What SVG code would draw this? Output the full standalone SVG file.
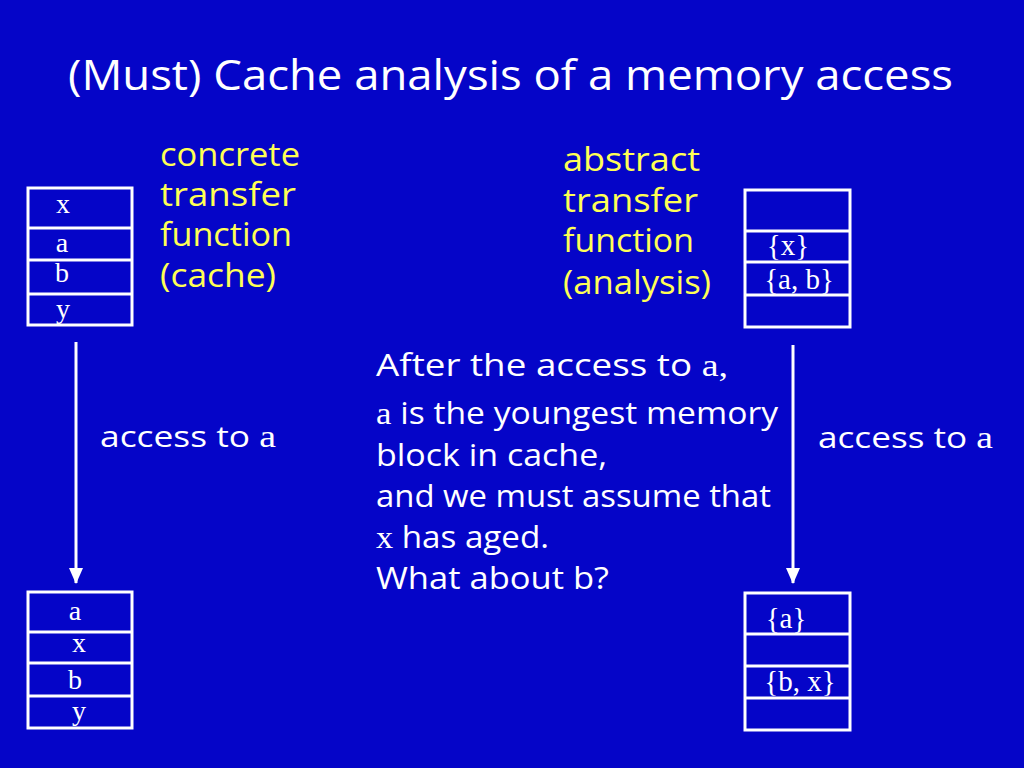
<svg xmlns="http://www.w3.org/2000/svg" width="1024" height="768" viewBox="0 0 1024 768">
<defs>
<style>
.bg{fill:#0505C8}
.cell{fill:none;stroke:#FFFFFF;stroke-width:3}
.sans{font-family:"Open Sans","DejaVu Sans",sans-serif;fill:#FFFFFF}
.yel{font-family:"Open Sans","DejaVu Sans",sans-serif;fill:#FFFF55;font-size:32px}
.ser{font-family:"Liberation Serif","Times New Roman",serif;fill:#FFFFFF}
.conn{stroke:#FFFFFF;stroke-width:3;fill:none}
</style>
<marker id="ah" markerWidth="16" markerHeight="14" refX="15" refY="7" orient="auto" markerUnits="userSpaceOnUse" viewBox="0 0 16 14">
<path d="M0,0 L16,7 L0,14 Z" fill="#FFFFFF"/>
</marker>
</defs>
<rect class="bg" x="0" y="0" width="1024" height="768"/>
<text class="sans" x="68" y="90" font-size="42" textLength="885" lengthAdjust="spacingAndGlyphs">(Must) Cache analysis of a memory access</text>

<g id="concrete-label">
<text class="yel" x="160" y="166" textLength="140" lengthAdjust="spacingAndGlyphs">concrete</text>
<text class="yel" x="160" y="206" textLength="136" lengthAdjust="spacingAndGlyphs">transfer</text>
<text class="yel" x="160" y="246" textLength="132" lengthAdjust="spacingAndGlyphs">function</text>
<text class="yel" x="160" y="287" textLength="116" lengthAdjust="spacingAndGlyphs">(cache)</text>
</g>
<g id="abstract-label">
<text class="yel" x="563" y="171" textLength="137" lengthAdjust="spacingAndGlyphs">abstract</text>
<text class="yel" x="563" y="212" textLength="135" lengthAdjust="spacingAndGlyphs">transfer</text>
<text class="yel" x="563" y="252" textLength="131" lengthAdjust="spacingAndGlyphs">function</text>
<text class="yel" x="563" y="294" textLength="148" lengthAdjust="spacingAndGlyphs">(analysis)</text>
</g>

<g id="cache-before">
<rect class="cell" x="28" y="188" width="104" height="137"/>
<line class="cell" x1="28" y1="228" x2="132" y2="228"/>
<line class="cell" x1="28" y1="260" x2="132" y2="260"/>
<line class="cell" x1="28" y1="294" x2="132" y2="294"/>
<text class="ser" x="63" y="213" font-size="28" text-anchor="middle">x</text>
<text class="ser" x="62" y="252" font-size="28" text-anchor="middle">a</text>
<text class="ser" x="62" y="282" font-size="28" text-anchor="middle">b</text>
<text class="ser" x="63" y="318" font-size="28" text-anchor="middle">y</text>
</g>

<g id="abstract-before">
<rect class="cell" x="745" y="190" width="105" height="137"/>
<line class="cell" x1="745" y1="231" x2="850" y2="231"/>
<line class="cell" x1="745" y1="262" x2="850" y2="262"/>
<line class="cell" x1="745" y1="295" x2="850" y2="295"/>
<text class="ser" x="788" y="255" font-size="29" text-anchor="middle">{x}</text>
<text class="ser" x="799" y="289" font-size="29" text-anchor="middle">{a, b}</text>
</g>

<g id="cache-after">
<rect class="cell" x="28" y="592" width="104" height="136"/>
<line class="cell" x1="28" y1="632" x2="132" y2="632"/>
<line class="cell" x1="28" y1="663" x2="132" y2="663"/>
<line class="cell" x1="28" y1="696" x2="132" y2="696"/>
<text class="ser" x="75" y="620" font-size="28" text-anchor="middle">a</text>
<text class="ser" x="79" y="652" font-size="28" text-anchor="middle">x</text>
<text class="ser" x="75" y="689" font-size="28" text-anchor="middle">b</text>
<text class="ser" x="79" y="720" font-size="28" text-anchor="middle">y</text>
</g>

<g id="abstract-after">
<rect class="cell" x="745" y="593" width="105" height="137"/>
<line class="cell" x1="745" y1="634" x2="850" y2="634"/>
<line class="cell" x1="745" y1="666" x2="850" y2="666"/>
<line class="cell" x1="745" y1="698" x2="850" y2="698"/>
<text class="ser" x="786" y="628" font-size="29" text-anchor="middle">{a}</text>
<text class="ser" x="800" y="691" font-size="29" text-anchor="middle">{b, x}</text>
</g>

<g id="connectors">
<line class="conn" x1="76" y1="342" x2="76" y2="583" marker-end="url(#ah)"/>
<line class="conn" x1="793" y1="345" x2="793" y2="583" marker-end="url(#ah)"/>
<text class="sans" x="100" y="447" font-size="29" textLength="176" lengthAdjust="spacingAndGlyphs">access to <tspan class="ser" font-size="31">a</tspan></text>
<text class="sans" x="818" y="448" font-size="29" textLength="175" lengthAdjust="spacingAndGlyphs">access to <tspan class="ser" font-size="31">a</tspan></text>
</g>

<g id="explanation">
<text class="sans" x="376" y="376" font-size="31" textLength="352" lengthAdjust="spacingAndGlyphs">After the access to <tspan class="ser" font-size="32">a,</tspan></text>
<text class="sans" x="376" y="424" font-size="31" textLength="402" lengthAdjust="spacingAndGlyphs"><tspan class="ser" font-size="32">a</tspan> is the youngest memory</text>
<text class="sans" x="376" y="466" font-size="31" textLength="231" lengthAdjust="spacingAndGlyphs">block in cache,</text>
<text class="sans" x="376" y="507" font-size="31" textLength="395" lengthAdjust="spacingAndGlyphs">and we must assume that</text>
<text class="sans" x="376" y="548" font-size="31" textLength="173" lengthAdjust="spacingAndGlyphs"><tspan class="ser" font-size="32">x</tspan> has aged.</text>
<text class="sans" x="376" y="589" font-size="31" textLength="233" lengthAdjust="spacingAndGlyphs">What about b?</text>
</g>
</svg>
